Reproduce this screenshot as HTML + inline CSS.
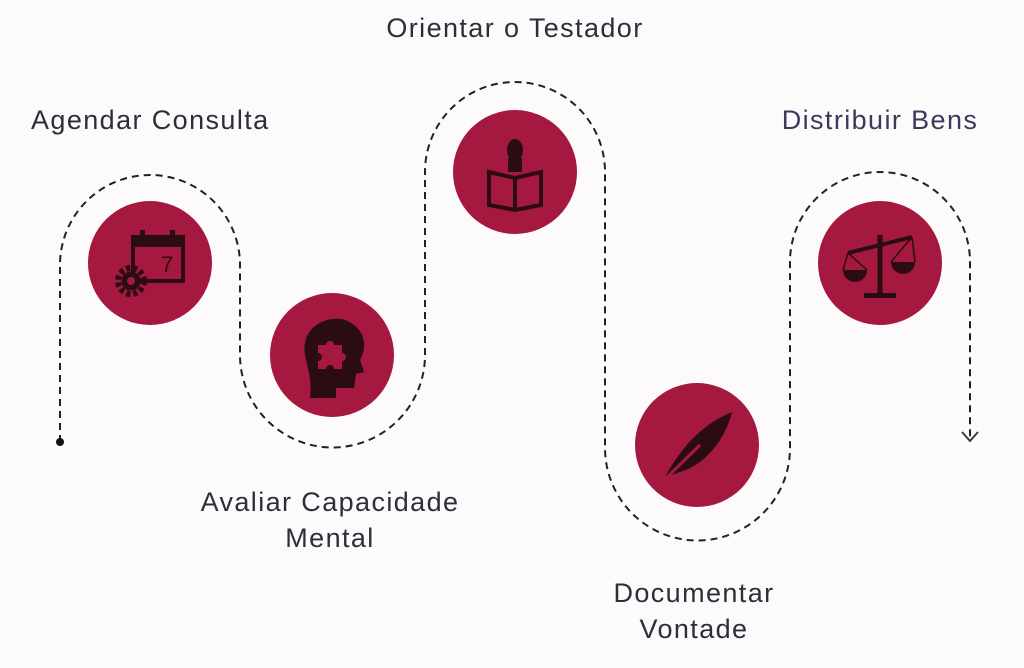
<!DOCTYPE html>
<html><head><meta charset="utf-8"><style>
html,body{margin:0;padding:0;background:#fcfafa;}
body{width:1024px;height:668px;position:relative;overflow:hidden;font-family:"Liberation Sans",sans-serif;}
.t{position:absolute;font-size:27px;letter-spacing:1.4px;color:#2e2e3a;text-align:center;line-height:36px;white-space:nowrap;}
</style></head><body>
<svg width="1024" height="668" style="position:absolute;left:0;top:0">
<path d="M60 442 V265 A90 90 0 0 1 240 265 V355 A92.5 92.5 0 0 0 425 355 V172 A90 90 0 0 1 605 172 V448 A92.5 92.5 0 0 0 790 448 V262 A90 90 0 0 1 970 262 V440" fill="none" stroke="#222" stroke-width="2" stroke-dasharray="7 5"/>
<circle cx="60" cy="442" r="4" fill="#111"/>
<path d="M962 432 L970 441 L978 432" fill="none" stroke="#333" stroke-width="1.8"/>
<g fill="#a5183f">
<circle cx="150" cy="263" r="62"/><circle cx="332" cy="355" r="62"/><circle cx="515" cy="172" r="62"/><circle cx="697" cy="445" r="62"/><circle cx="880" cy="263" r="62"/>
</g>
<g fill="#2a0c12" stroke="#2a0c12">
<rect x="133" y="237" width="50" height="44" fill="none" stroke-width="4"/>
<rect x="133" y="237" width="50" height="10" stroke="none"/>
<rect x="140" y="230" width="5" height="12" stroke="none"/><rect x="170" y="230" width="5" height="12" stroke="none"/>
<text x="161" y="272" font-size="22" font-family="Liberation Sans" stroke="none">7</text>
<circle cx="131" cy="281" r="13" stroke="#2a0c12" stroke-width="6" fill="none" stroke-dasharray="4 3"/>
<circle cx="131" cy="281" r="9"/><circle cx="131" cy="281" r="4" fill="#a5183f" stroke="none"/>
<path d="M305 355 C300 325 330 315 345 320 C365 328 368 345 360 360 L364 372 L356 374 L354 388 H336 V398 H310 C312 380 308 370 305 355Z" stroke="none"/>
<path d="M318 345 h8 a4 4 0 0 1 8 0 h8 v8 a4 4 0 0 1 0 8 v8 h-8 a4 4 0 0 0 -8 0 h-8 v-8 a4 4 0 0 0 0 -8z" fill="#a5183f" stroke="none"/>
<ellipse cx="515" cy="150" rx="8" ry="11" stroke="none"/>
<rect x="508" y="158" width="14" height="14" stroke="none"/>
<path d="M489 172 L515 178 L541 172 V205 L515 210 L489 205Z" fill="none" stroke-width="4"/>
<line x1="515" y1="178" x2="515" y2="210" stroke-width="4"/>
<path d="M665 477 C680 450 700 425 732 412 C725 440 705 465 680 472 Z" stroke="none"/>
<line x1="660" y1="484" x2="700" y2="445" stroke="#a5183f" stroke-width="3"/>
<line x1="880" y1="235" x2="880" y2="295" stroke-width="5"/>
<rect x="864" y="293" width="32" height="5" stroke="none"/>
<line x1="848" y1="253" x2="912" y2="237" stroke-width="4"/>
<path d="M843 270 a12 12 0 0 0 24 0z" stroke="none"/><path d="M891 262 a12 12 0 0 0 24 0z" stroke="none"/>
<path d="M848 253 L843 270 M848 253 L867 270 M912 237 L891 262 M912 237 L915 262" stroke-width="1.5" fill="none"/>
</g>
</svg>
<div class="t" style="left:31px;top:102px;">Agendar Consulta</div>
<div class="t" style="left:365px;top:10px;width:300px;">Orientar o Testador</div>
<div class="t" style="left:760px;top:102px;width:240px;color:#3a3a5e;">Distribuir Bens</div>
<div class="t" style="left:180px;top:484px;width:300px;">Avaliar Capacidade<br>Mental</div>
<div class="t" style="left:544px;top:575px;width:300px;">Documentar<br>Vontade</div>
</body></html>
